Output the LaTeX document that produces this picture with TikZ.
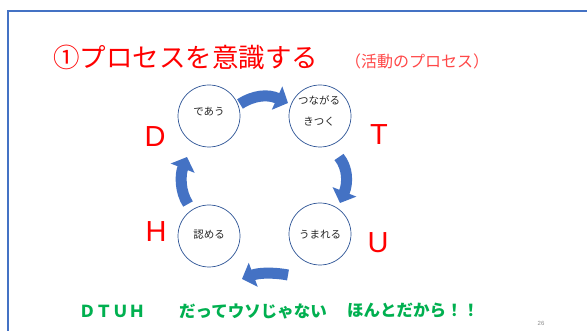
\documentclass[tikz,border=0pt]{standalone}
\usepackage{fontspec}
\setmainfont{Liberation Sans}
\newfontfamily\cjk{Noto Sans CJK JP}
\usetikzlibrary{arrows.meta}
\definecolor{frameblue}{HTML}{4472C4}
\definecolor{circblue}{HTML}{2F5597}
\definecolor{arrblue}{HTML}{4472C4}
\definecolor{titlered}{HTML}{FF0000}
\definecolor{subred}{HTML}{FF4848}
\definecolor{slogan}{HTML}{00B050}
\tikzset{
  frameline/.style={draw=frameblue, line width=2pt, line join=miter},
  stagecirc/.style={circle, draw=circblue, line width=0.7pt, fill=white, minimum size=62pt, inner sep=0pt},
  stagetext/.style={font=\cjk\fontsize{10.5}{13}\selectfont, inner sep=0pt, align=center, text=black!85},
  letter/.style={font=\fontsize{29}{30}\selectfont, text=titlered, inner sep=0pt},
  cyclearrow/.style={draw=arrblue, line width=11pt, line cap=butt, -{Triangle[width=25pt,length=12pt]}},
  slogantext/.style={font=\cjk\bfseries\fontsize{16.5}{18}\selectfont, text=slogan, inner sep=0pt, anchor=west},
}
\begin{document}
\begin{tikzpicture}[x=1pt,y=-1pt]
\useasboundingbox[fill=white] (0,0) rectangle (587,331);
% frame
\coordinate (fbl) at (7.5,331);
\coordinate (ftl) at (7.5,11);
\coordinate (ftr) at (587,11);
\draw[frameline] (fbl) -- (ftl) -- (ftr);
% title
\node[anchor=west, inner sep=0pt, font=\cjk\fontsize{26.5}{28}\selectfont, text=titlered] (title) at (53,57) {①プロセスを意識する};
\node[anchor=west, inner sep=0pt, font=\cjk\fontsize{16}{18}\selectfont, text=subred] (subtitle) at (345,61) {（活動のプロセス）};
% circles
\node[stagecirc] (c1) at (209,116) {};
\node[stagecirc] (c2) at (320,116) {};
\node[stagecirc] (c3) at (320,234) {};
\node[stagecirc] (c4) at (209,236) {};
\node[stagetext] (t1) at (209,112) {であう};
\node[stagetext] (t2a) at (319,100) {つながる};
\node[stagetext] (t2b) at (319,122) {きつく};
\node[stagetext] (t3) at (320,235) {うまれる};
\node[stagetext] (t4) at (209,235) {認める};
% letters
\node[letter] (lD) at (155,137) {D};
\node[letter] (lT) at (379,135) {T};
\node[letter] (lU) at (378,243) {U};
\node[letter] (lH) at (156,232) {H};
% arrows
\coordinate (a1s) at (240,104);
\coordinate (a1e) at (288,103);
\coordinate (a2s) at (339,157);
\coordinate (a2e) at (340,203);
\coordinate (a3s) at (288,275);
\coordinate (a3e) at (242,279);
\coordinate (a4s) at (188,204);
\coordinate (a4e) at (187,157);
\draw[cyclearrow] (a1s) .. controls (254,95) and (268,94) .. (a1e);
\draw[cyclearrow] (a2s) .. controls (348,168) and (348,183) .. (a2e);
\draw[cyclearrow] (a3s) .. controls (272,272) and (258,273) .. (a3e);
\draw[cyclearrow] (a4s) .. controls (180,192) and (180,175) .. (a4e);
% slogan
\node[slogantext] (s1) at (79,311) {ＤＴＵＨ};
\node[slogantext] (s2) at (179,311) {だってウソじゃない};
\node[slogantext] (s3) at (347,311) {ほんとだから！！};
% page number
\node[inner sep=0pt, font=\fontsize{6}{7}\selectfont, text=black!45] (pg) at (541,323) {26};
\end{tikzpicture}
\end{document}
